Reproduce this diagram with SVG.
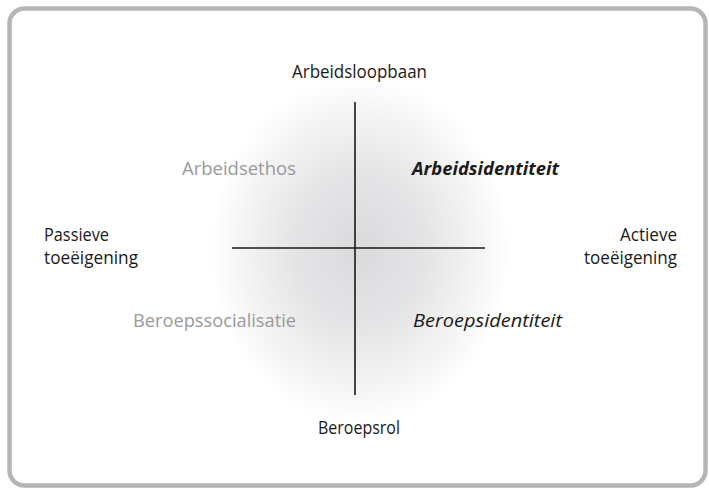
<svg xmlns="http://www.w3.org/2000/svg" width="709" height="489" viewBox="0 0 709 489">
<defs>
<radialGradient id="glow" cx="0.5" cy="0.5" r="0.5">
<stop offset="0" stop-color="#dadadd"/>
<stop offset="0.45" stop-color="#e5e5e7"/>
<stop offset="0.78" stop-color="#f4f4f5"/>
<stop offset="1" stop-color="#ffffff"/>
</radialGradient>
<style>
text{font-family:"Open Sans","Liberation Sans",sans-serif;font-size:18px;fill:#1a1a1a}
.grey{fill:#9a9a9a}
.bi{font-style:italic;font-weight:bold}
.it{font-style:italic}
.axis{stroke:#1a1a1a;stroke-width:1.6;fill:none}
</style>
</defs>
<rect x="9.5" y="8.5" width="696" height="477" rx="15" fill="#ffffff" stroke="#b3b5b7" stroke-width="4.5"/>
<ellipse cx="360" cy="250" rx="150" ry="174" fill="url(#glow)"/>
<g id="connectors">
<line class="axis" x1="355" y1="102" x2="355" y2="395"/>
<line class="axis" x1="232" y1="248" x2="485" y2="248"/>
</g>
<g id="top"><text x="292" y="78" textLength="135" lengthAdjust="spacingAndGlyphs">Arbeidsloopbaan</text></g>
<g id="bottom"><text x="318" y="434" textLength="82" lengthAdjust="spacingAndGlyphs">Beroepsrol</text></g>
<g id="left"><text x="44" y="241" textLength="65" lengthAdjust="spacingAndGlyphs">Passieve</text><text x="44" y="264" textLength="94" lengthAdjust="spacingAndGlyphs">toeëigening</text></g>
<g id="right"><text x="620" y="241" textLength="57" lengthAdjust="spacingAndGlyphs">Actieve</text><text x="584" y="264" textLength="93" lengthAdjust="spacingAndGlyphs">toeëigening</text></g>
<g id="q1"><text class="grey" x="182" y="175" textLength="114" lengthAdjust="spacingAndGlyphs">Arbeidsethos</text></g>
<g id="q2"><text class="bi" x="412" y="175" textLength="147" lengthAdjust="spacingAndGlyphs">Arbeidsidentiteit</text></g>
<g id="q3"><text class="grey" x="133" y="327" textLength="163" lengthAdjust="spacingAndGlyphs">Beroepssocialisatie</text></g>
<g id="q4"><text class="it" x="413" y="327" textLength="149" lengthAdjust="spacingAndGlyphs">Beroepsidentiteit</text></g>
</svg>
